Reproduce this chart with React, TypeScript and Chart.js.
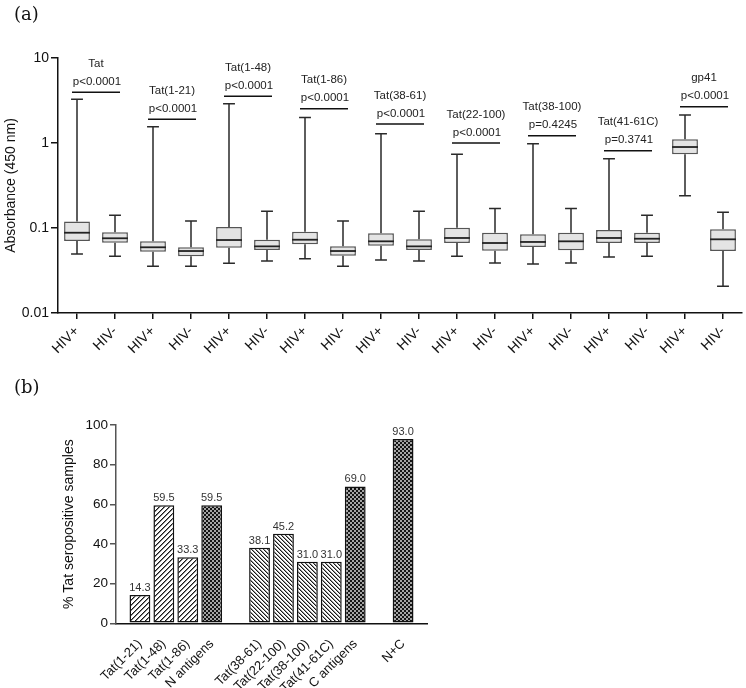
import React, { useEffect, useRef } from 'react';
import { Chart, registerables } from 'chart.js';
Chart.register(...registerables);

// ---------- Panel (a): box plots ----------
const boxCategories = [
  'HIV+', 'HIV-', 'HIV+', 'HIV-', 'HIV+', 'HIV-', 'HIV+', 'HIV-', 'HIV+',
  'HIV-', 'HIV+', 'HIV-', 'HIV+', 'HIV-', 'HIV+', 'HIV-', 'HIV+', 'HIV-',
];
const antigenNames = ['Tat', 'Tat(1-21)', 'Tat(1-48)', 'Tat(1-86)', 'Tat(38-61)', 'Tat(22-100)', 'Tat(38-100)', 'Tat(41-61C)', 'gp41'];
const pLabels = ['p<0.0001', 'p<0.0001', 'p<0.0001', 'p<0.0001', 'p<0.0001', 'p<0.0001', 'p=0.4245', 'p=0.3741', 'p<0.0001'];
const bracketLevels = [3.95, 1.9, 3.54, 2.53, 1.67, 1.0, 1.22, 0.81, 2.67];

const whiskerLow = [0.0494, 0.0465, 0.0354, 0.0354, 0.0384, 0.0409, 0.0435, 0.0354, 0.042, 0.0409, 0.0465, 0.0388, 0.0377, 0.0388, 0.0456, 0.0465, 0.24, 0.0206];
const quartile1 = [0.0703, 0.0671, 0.0526, 0.0465, 0.0587, 0.0551, 0.0643, 0.0472, 0.0619, 0.0551, 0.0666, 0.0541, 0.0598, 0.0547, 0.0666, 0.0666, 0.736, 0.0536];
const medians = [0.088, 0.0757, 0.0593, 0.0536, 0.0722, 0.0608, 0.0728, 0.0536, 0.0697, 0.0608, 0.0763, 0.0666, 0.0685, 0.0697, 0.0763, 0.0748, 0.897, 0.0736];
const quartile3 = [0.119, 0.089, 0.0697, 0.0593, 0.103, 0.0728, 0.0904, 0.0608, 0.0866, 0.0736, 0.101, 0.088, 0.0843, 0.088, 0.0947, 0.088, 1.106, 0.0966];
const whiskerHigh = [3.27, 0.141, 1.556, 0.121, 2.9, 0.157, 1.99, 0.121, 1.286, 0.157, 0.736, 0.17, 0.982, 0.17, 0.654, 0.141, 2.13, 0.153];
const logTicks = [0.01, 0.1, 1, 10];

// ---------- Panel (b): seropositivity bars ----------
const nLabels = ['Tat(1-21)', 'Tat(1-48)', 'Tat(1-86)', 'N antigens'];
const nValues = [14.3, 59.5, 33.3, 59.5];
const cLabels = ['Tat(38-61)', 'Tat(22-100)', 'Tat(38-100)', 'Tat(41-61C)', 'C antigens'];
const cValues = [38.1, 45.2, 31.0, 31.0, 69.0];
const ncLabels = ['N+C'];
const ncValues = [93.0];
const percentTicks = [0, 20, 40, 60, 80, 100];

const FONT = '"Liberation Sans", Arial, sans-serif';

function makePattern(kind: string): CanvasPattern | string {
  const n = kind === 'n' ? 5 : 4;
  const c = document.createElement('canvas');
  c.width = n;
  c.height = n;
  const g = c.getContext('2d');
  if (!g) return '#888';
  const img = g.createImageData(n, n);
  for (let y = 0; y < n; y++) {
    for (let x = 0; x < n; x++) {
      let v = 255;
      if (kind === 'n') {
        const k = (x + y) % n;
        v = k === 0 ? 25 : k === 1 ? 130 : 255;
      } else if (kind === 'c') {
        const k = (((x - y) % n) + n) % n;
        v = k === 0 ? 25 : k === 1 ? 150 : 255;
      } else {
        v = (Math.floor(x / 2) + Math.floor(y / 2)) % 2 === 0 ? 20 : 165;
      }
      const i = (y * n + x) * 4;
      img.data[i] = v;
      img.data[i + 1] = v;
      img.data[i + 2] = v;
      img.data[i + 3] = 255;
    }
  }
  g.putImageData(img, 0, 0);
  const p = g.createPattern(c, 'repeat');
  return p || '#888';
}

const boxExtras = {
  id: 'boxExtras',
  beforeDatasetsDraw(chart: any) {
    const { ctx, scales } = chart;
    const xs = scales.x;
    const ys = scales.y;
    const meta = chart.getDatasetMeta(0);
    ctx.save();
    ctx.strokeStyle = '#2a2a2a';
    ctx.lineWidth = 1.5;
    for (let i = 0; i < boxCategories.length; i++) {
      const x = xs.getPixelForValue(i);
      const bw = meta.data[i] ? meta.data[i].width : 26;
      const cap = bw * 0.23;
      const yLo = ys.getPixelForValue(whiskerLow[i]);
      const yHi = ys.getPixelForValue(whiskerHigh[i]);
      const yQ1 = ys.getPixelForValue(quartile1[i]);
      const yQ3 = ys.getPixelForValue(quartile3[i]);
      ctx.beginPath();
      ctx.moveTo(x, yHi);
      ctx.lineTo(x, yQ3);
      ctx.moveTo(x, yQ1);
      ctx.lineTo(x, yLo);
      ctx.moveTo(x - cap, yHi);
      ctx.lineTo(x + cap, yHi);
      ctx.moveTo(x - cap, yLo);
      ctx.lineTo(x + cap, yLo);
      ctx.stroke();
    }
    ctx.restore();
  },
  afterDatasetsDraw(chart: any) {
    const { ctx, scales } = chart;
    const xs = scales.x;
    const ys = scales.y;
    const meta = chart.getDatasetMeta(0);
    ctx.save();
    // medians
    ctx.strokeStyle = '#222';
    ctx.lineWidth = 1.8;
    for (let i = 0; i < boxCategories.length; i++) {
      const el = meta.data[i];
      if (!el) continue;
      const y = ys.getPixelForValue(medians[i]);
      ctx.beginPath();
      ctx.moveTo(el.x - el.width / 2, y);
      ctx.lineTo(el.x + el.width / 2, y);
      ctx.stroke();
    }
    // brackets and labels
    ctx.font = `11.5px ${FONT}`;
    ctx.fillStyle = '#222';
    ctx.textAlign = 'center';
    ctx.textBaseline = 'middle';
    ctx.strokeStyle = '#111';
    ctx.lineWidth = 1.5;
    for (let g = 0; g < antigenNames.length; g++) {
      const x1 = xs.getPixelForValue(2 * g);
      const x2 = xs.getPixelForValue(2 * g + 1);
      const mid = (x1 + x2) / 2;
      const y = ys.getPixelForValue(bracketLevels[g]);
      ctx.beginPath();
      ctx.moveTo(mid - 24, y);
      ctx.lineTo(mid + 24, y);
      ctx.stroke();
      ctx.fillText(pLabels[g], mid + 1, y - 10.5);
      ctx.fillText(antigenNames[g], mid, y - 28.5);
    }
    ctx.restore();
  },
};

const valueLabels = {
  id: 'valueLabels',
  afterDatasetsDraw(chart: any) {
    const { ctx } = chart;
    const meta = chart.getDatasetMeta(0);
    const data = chart.data.datasets[0].data;
    ctx.save();
    ctx.font = `11px ${FONT}`;
    ctx.fillStyle = '#333';
    ctx.textAlign = 'center';
    ctx.textBaseline = 'alphabetic';
    meta.data.forEach((el: any, i: number) => {
      const v = data[i];
      if (v === null || v === undefined) return;
      ctx.fillText(Number(v).toFixed(1), el.x, el.y - 4);
    });
    ctx.restore();
  },
};

function BoxPanel() {
  const ref = useRef<HTMLCanvasElement>(null);
  useEffect(() => {
    if (!ref.current) return;
    const chart = new Chart(ref.current, {
      type: 'bar',
      data: {
        labels: boxCategories,
        datasets: [
          {
            data: boxCategories.map((_, i) => [quartile1[i], quartile3[i]]) as any,
            backgroundColor: '#e4e4e4',
            borderColor: '#555',
            borderWidth: 1.5,
            borderSkipped: false,
            barPercentage: 0.68,
            categoryPercentage: 1,
          },
        ],
      },
      options: {
        responsive: false,
        animation: false,
        layout: { padding: { top: 58, right: 4, left: 0, bottom: 0 } },
        plugins: { legend: { display: false }, tooltip: { enabled: false } },
        scales: {
          x: {
            type: 'category',
            offset: true,
            grid: { offset: false, drawOnChartArea: false, drawTicks: true, tickLength: 6, color: '#111', lineWidth: 1.5 },
            border: { display: true, color: '#111', width: 1.5 },
            ticks: { color: '#111', font: { family: FONT, size: 14 }, minRotation: 45, maxRotation: 45, autoSkip: false, padding: 4 },
            afterFit: (s: any) => { s.height = 57; },
          },
          y: {
            type: 'logarithmic',
            min: 0.01,
            max: 10,
            afterBuildTicks: (s: any) => { s.ticks = logTicks.map((v) => ({ value: v })); },
            grid: { drawOnChartArea: false, drawTicks: true, tickLength: 7, color: '#111', lineWidth: 1.5 },
            border: { display: true, color: '#111', width: 1.5 },
            ticks: { color: '#111', font: { family: FONT, size: 14 }, padding: 2, callback: (v: any) => String(v) },
            title: { display: true, text: 'Absorbance (450 nm)', color: '#111', font: { family: FONT, size: 14 }, padding: { top: 3, bottom: 0 } },
            afterFit: (s: any) => { s.width = 58; },
          },
        },
      },
      plugins: [boxExtras],
    });
    return () => chart.destroy();
  }, []);
  return <canvas ref={ref} width={746} height={370} style={{ position: 'absolute', left: 0, top: 0 }} />;
}

function BarPanel() {
  const ref = useRef<HTMLCanvasElement>(null);
  useEffect(() => {
    if (!ref.current) return;
    const labels = ['', ...nLabels, '', ...cLabels, '', ...ncLabels, ''];
    const values = [null, ...nValues, null, ...cValues, null, ...ncValues, null];
    const isAntigen = (l: string) => l.includes('antigens') || l === 'N+C';
    const pn = makePattern('n');
    const pc = makePattern('c');
    const pk = makePattern('k');
    const fills = labels.map((l) => {
      if (!l) return 'transparent';
      if (isAntigen(l)) return pk;
      return nLabels.includes(l) ? pn : pc;
    });
    const chart = new Chart(ref.current, {
      type: 'bar',
      data: {
        labels,
        datasets: [
          {
            data: values as any,
            backgroundColor: fills as any,
            borderColor: '#111',
            borderWidth: 1.5,
            borderSkipped: false,
            barPercentage: 0.87,
            categoryPercentage: 1,
          },
        ],
      },
      options: {
        responsive: false,
        animation: false,
        layout: { padding: { top: 55, right: 319, left: 0, bottom: 0 } },
        plugins: { legend: { display: false }, tooltip: { enabled: false } },
        scales: {
          x: {
            type: 'category',
            offset: false,
            grid: { display: false },
            border: { display: true, color: '#111', width: 1.5 },
            ticks: { color: '#111', font: { family: FONT, size: 13 }, minRotation: 45, maxRotation: 45, autoSkip: false, padding: 5 },
            afterFit: (s: any) => { s.height = 64.7; },
          },
          y: {
            min: 0,
            max: 100,
            afterBuildTicks: (s: any) => { s.ticks = percentTicks.map((v) => ({ value: v })); },
            grid: { drawOnChartArea: false, drawTicks: true, tickLength: 6, color: '#555', lineWidth: 1.5 },
            border: { display: true, color: '#555', width: 1.5 },
            ticks: { color: '#111', font: { family: FONT, size: 13.5 }, padding: 2 },
            title: { display: true, text: '% Tat seropositive samples', color: '#111', font: { family: FONT, size: 14 }, padding: { top: 61, bottom: 0 } },
            afterFit: (s: any) => { s.width = 116; },
          },
        },
      },
      plugins: [valueLabels],
    });
    return () => chart.destroy();
  }, []);
  return <canvas ref={ref} width={746} height={318} style={{ position: 'absolute', left: 0, top: 370 }} />;
}

export default function App() {
  const lbl: React.CSSProperties = {
    position: 'absolute',
    left: 14,
    fontFamily: '"DejaVu Serif", serif',
    fontSize: 18,
    lineHeight: '21px',
    color: '#111',
  };
  return (
    <div style={{ position: 'absolute', left: 0, top: 0, width: 746, height: 688, background: '#fff', overflow: 'hidden' }}>
      <BoxPanel />
      <BarPanel />
      <div style={{ ...lbl, top: 3 }}>(a)</div>
      <div style={{ ...lbl, top: 376 }}>(b)</div>
    </div>
  );
}
